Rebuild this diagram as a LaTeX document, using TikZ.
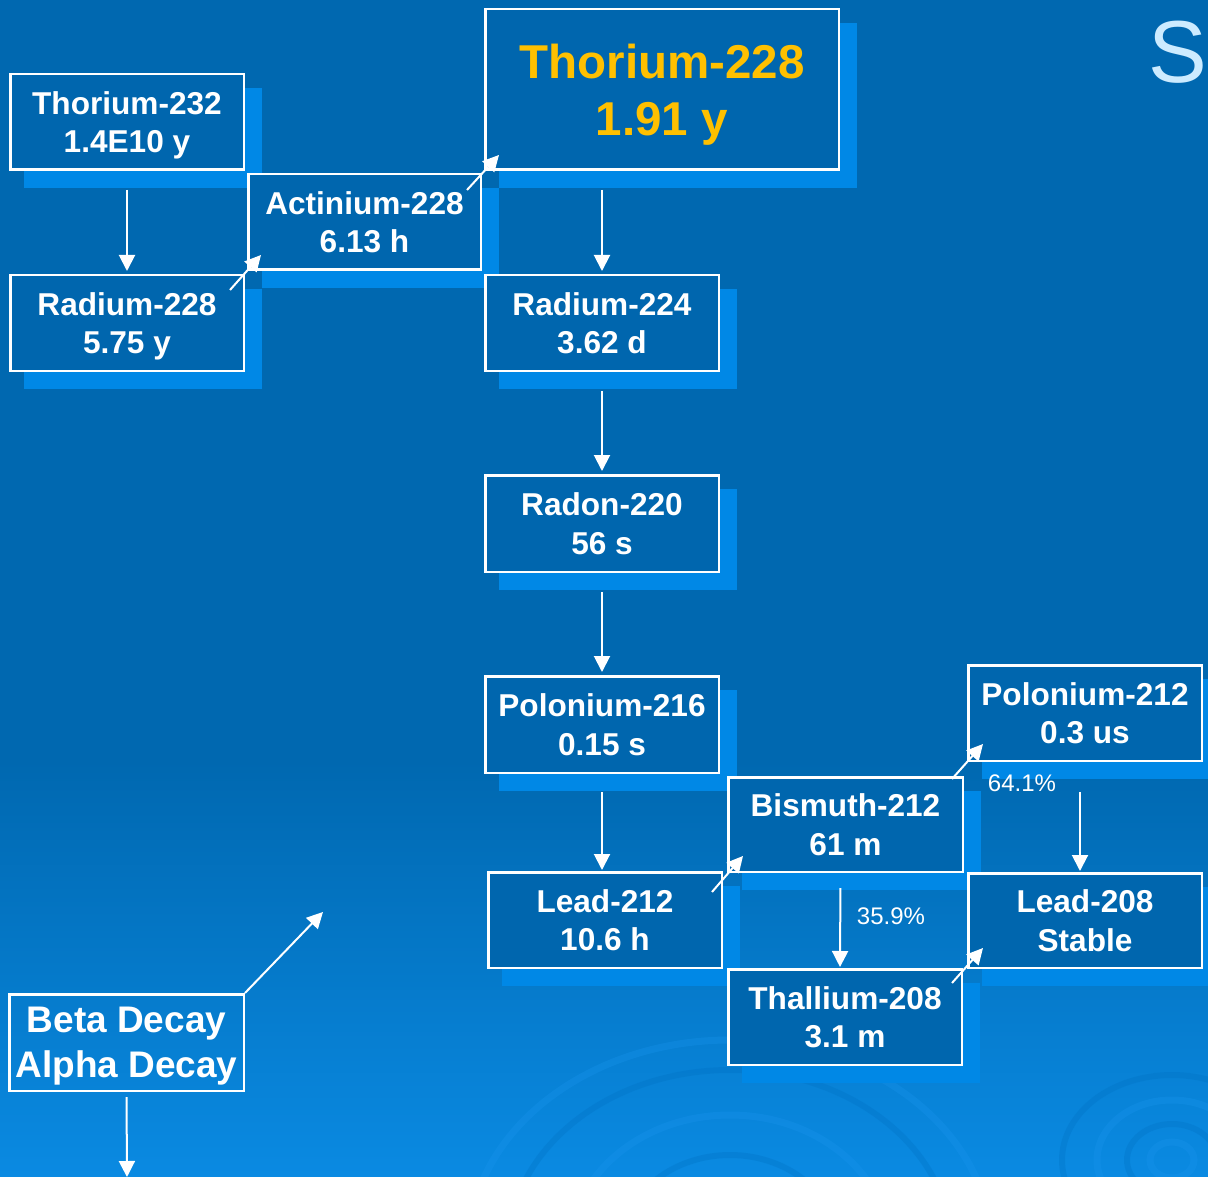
\documentclass[tikz,border=0pt]{standalone}
\usepackage{fontspec}
\setmainfont{Liberation Sans}
\usetikzlibrary{arrows.meta,calc}
\definecolor{bgtop}{HTML}{0068B0}
\definecolor{bgbot}{HTML}{0A8AE2}
\definecolor{boxc}{HTML}{0066AE}
\definecolor{shadc}{HTML}{0088E6}
\definecolor{gold}{HTML}{FFC000}
\definecolor{sletter}{HTML}{CCEBFF}
\definecolor{swlight}{HTML}{1A95EE}
\definecolor{swdark}{HTML}{0070C2}
\pgfdeclarelayer{bglayer}
\pgfdeclarelayer{shlayer}
\pgfsetlayers{bglayer,shlayer,main}
\begin{document}
\begin{tikzpicture}[x=1pt,y=-1pt,
  iso/.style={draw=white, line width=2.5pt, fill=boxc, text=white, align=center, inner sep=0pt,
    text depth=0pt, font=\bfseries\fontsize{31.6}{38.5}\selectfont},
  sz/.style n args={2}{minimum width=#1pt, minimum height=#2pt},
  arr/.style={draw=white, line width=2pt, -{Triangle[length=16pt,width=16pt]}},
  pct/.style={text=white, inner sep=0pt, font=\fontsize{24}{28}\selectfont},
  swirlA/.style={draw=swlight, line width=7pt, opacity=0.3},
  swirlB/.style={draw=swdark, line width=6pt, opacity=0.3}]
\useasboundingbox (0,0) rectangle (1208,1177);

% background
\begin{pgfonlayer}{bglayer}
  \fill[bgtop] (0,0) rectangle (1208,1177);
  \shade[top color=bgtop, bottom color=bgbot] (0,760) rectangle (1208,1177);
  \begin{scope}
    \clip (0,0) rectangle (1208,1177);
    \draw[swirlA] (730,1250) ellipse [x radius=262, y radius=210];
    \draw[swirlB] (730,1250) ellipse [x radius=222, y radius=180];
    \draw[swirlA] (730,1250) ellipse [x radius=160, y radius=135];
    \draw[swirlB] (730,1250) ellipse [x radius=110, y radius=95];
    \draw[swirlA] (730,1250) ellipse [x radius=75, y radius=65];
    \draw[swirlB] (1172,1160) ellipse [x radius=110, y radius=85];
    \draw[swirlA] (1172,1160) ellipse [x radius=75, y radius=60];
    \draw[swirlB] (1172,1160) ellipse [x radius=45, y radius=36];
    \draw[swirlA] (1172,1160) ellipse [x radius=22, y radius=18];
  \end{scope}
\end{pgfonlayer}

% title letter at the edge
\node[text=sletter, inner sep=0pt, anchor=base, font=\fontsize{88}{90}\selectfont] (sl) at (1178,83) {S};

% isotope boxes
\node[iso, sz={233.5}{95.5}] (th232) at (127,122) {Thorium-232\\1.4E10 y};
\node[iso, sz={232.5}{95.5}] (ac228) at (364.5,222) {Actinium-228\\6.13 h};
\node[iso, sz={233.5}{95.5}] (ra228) at (127,323) {Radium-228\\5.75 y};
\node[iso, sz={353.5}{160.5}, text=gold, font=\bfseries\fontsize{47.5}{57}\selectfont] (th228) at (662,89.5) {Thorium-228\\1.91 y};
\node[iso, sz={233.5}{95.5}] (ra224) at (602,323) {Radium-224\\3.62 d};
\node[iso, sz={233.5}{96.5}] (rn220) at (602,523.5) {Radon-220\\56 s};
\node[iso, sz={233.5}{96.5}] (po216) at (602,724.5) {Polonium-216\\0.15 s};
\node[iso, sz={233.5}{95.5}] (pb212) at (605,920) {Lead-212\\10.6 h};
\node[iso, sz={234.5}{94.5}] (bi212) at (845.5,824.5) {Bismuth-212\\61 m};
\node[iso, sz={233.5}{95.5}] (po212) at (1085,713) {Polonium-212\\0.3 us};
\node[iso, sz={233.5}{94.5}] (pb208) at (1085,920.5) {Lead-208\\Stable};
\node[iso, sz={233.5}{95.5}] (tl208) at (845,1017) {Thallium-208\\3.1 m};

% legend
\node[iso, fill=none, sz={234.5}{96.5}, text depth=-4pt, font=\bfseries\fontsize{37}{44.5}\selectfont] (legend) at (126.5,1042.5) {Beta Decay\\Alpha Decay};

% shadows
\begin{pgfonlayer}{shlayer}
  \foreach \n in {th232,ac228,ra228,th228,ra224,rn220,po216,pb212,bi212,po212,pb208,tl208}{
    \fill[shadc] ($(\n.north west)+(15,15)$) rectangle ($(\n.south east)+(17,17)$);
  }
\end{pgfonlayer}

% alpha decays (vertical)
\draw[arr, shorten <=19pt, shorten >=3pt] (th232.south) -- (ra228.north);
\draw[arr, shorten <=19pt, shorten >=3pt] (th228.south -| ra224.north) -- (ra224.north);
\draw[arr, shorten <=19pt, shorten >=3pt] (ra224.south) -- (rn220.north);
\draw[arr, shorten <=19pt, shorten >=3pt] (rn220.south) -- (po216.north);
\draw[arr, shorten <=18pt, shorten >=1pt] (po216.south) -- (po216.south |- pb212.north);
\draw[arr, shorten <=15pt, shorten >=1pt] ($(bi212.south)+(-5,0)$) -- ($(tl208.north)+(-5,0)$);
\draw[arr, shorten <=30pt, shorten >=1pt] ($(po212.south)+(-5,0)$) -- ($(pb208.north)+(-5,0)$);

% beta decays (diagonal)
\draw[arr] ($(ra228.north east)+(-15,16)$) -- ($(ac228.south west)+(14,-16)$);
\draw[arr] ($(ac228.north east)+(-15,17)$) -- ($(th228.south west)+(15,-16)$);
\draw[arr] ($(pb212.north east)+(-11,21)$) -- ($(bi212.south west)+(16,-17)$);
\draw[arr] ($(bi212.north east)+(-12,3)$) -- ($(po212.south west)+(16,-18)$);
\draw[arr] ($(tl208.north east)+(-11,15)$) -- ($(pb208.south west)+(16,-21)$);

% branching ratios
\node[pct, anchor=base] (p641) at (1022,791) {64.1\%};
\node[pct, anchor=base] (p359) at (891,924) {35.9\%};

% legend arrows
\coordinate (betaend) at (323,912);
\coordinate (alphaend) at (127,1177);
\draw[arr] (legend.north east) -- (betaend);
\draw[arr, shorten <=5pt] (legend.south) -- (alphaend);
\end{tikzpicture}
\end{document}
